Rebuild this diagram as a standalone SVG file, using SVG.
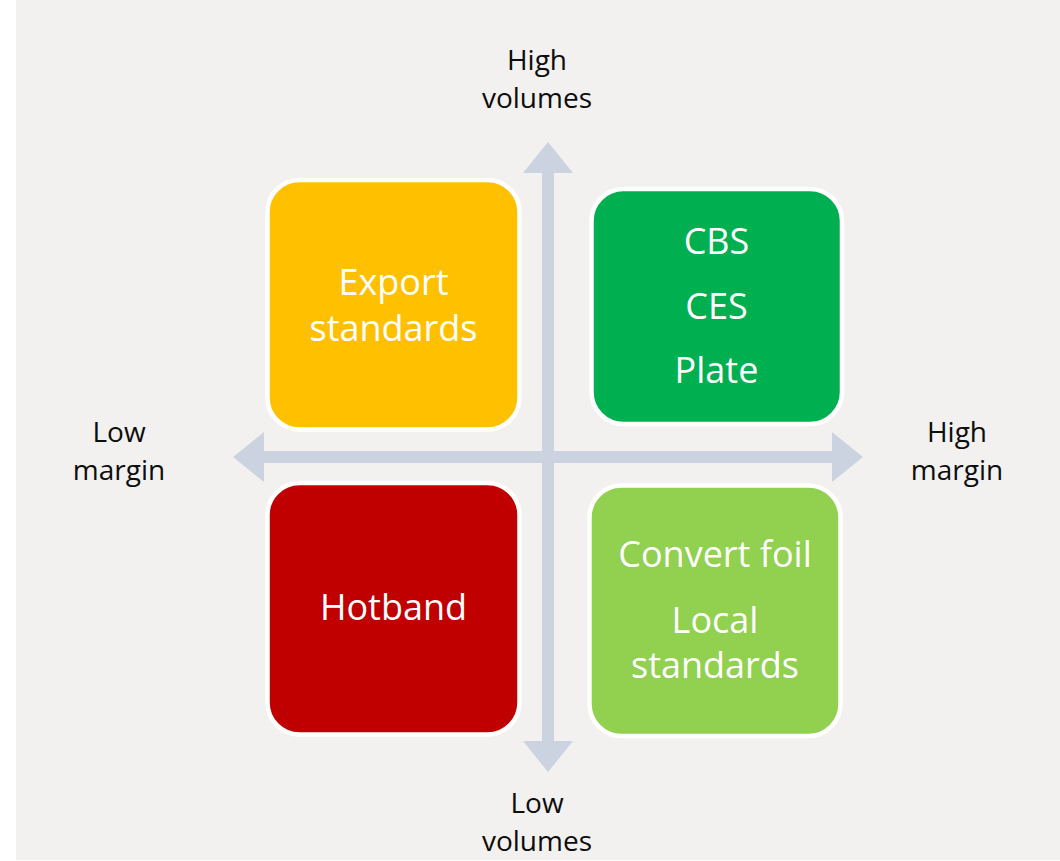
<svg xmlns="http://www.w3.org/2000/svg" width="1060" height="861" viewBox="0 0 1060 861">
  <defs>
    <style>
      .axis { font-family: "Open Sans", "Noto Sans", sans-serif; font-size: 28px; fill: #0d0d0d; text-anchor: middle; }
      .label { font-family: "Open Sans", "Noto Sans", sans-serif; font-size: 36px; fill: #ffffff; text-anchor: middle; }
      .box { stroke: #ffffff; stroke-width: 4.5; }
      .arrow { fill: #cbd3e0; }
    </style>
  </defs>

  <!-- page background -->
  <rect x="0" y="0" width="1060" height="861" fill="#ffffff"/>
  <rect x="16" y="0" width="1044" height="860" fill="#f2f1ef"/>

  <!-- axes -->
  <g id="connectors">
    <path class="arrow" d="M233,457 L264,432 L264,451 L832,451 L832,432 L863,457 L832,482 L832,463 L264,463 L264,482 Z"/>
    <path class="arrow" d="M548,142 L573,173 L554,173 L554,741 L573,741 L548,772 L523,741 L542,741 L542,173 L523,173 Z"/>
  </g>

  <!-- axis labels -->
  <g id="label-high-volumes">
    <text class="axis" x="537" y="70">High</text>
    <text class="axis" x="537" y="108">volumes</text>
  </g>
  <g id="label-low-volumes">
    <text class="axis" x="537" y="813">Low</text>
    <text class="axis" x="537" y="851">volumes</text>
  </g>
  <g id="label-low-margin">
    <text class="axis" x="119" y="442">Low</text>
    <text class="axis" x="119" y="480">margin</text>
  </g>
  <g id="label-high-margin">
    <text class="axis" x="957" y="442">High</text>
    <text class="axis" x="957" y="480">margin</text>
  </g>

  <!-- quadrants -->
  <g id="node-export-standards">
    <rect class="box" x="267.5" y="180" width="252" height="249.5" rx="32" fill="#ffc000"/>
    <text class="label" x="393.5" y="295">Export</text>
    <text class="label" x="393.5" y="341">standards</text>
  </g>
  <g id="node-cbs-ces-plate">
    <rect class="box" x="591.5" y="189" width="250.5" height="235" rx="32" fill="#00b050"/>
    <text class="label" x="716.5" y="254">CBS</text>
    <text class="label" x="716.5" y="319">CES</text>
    <text class="label" x="716.5" y="383">Plate</text>
  </g>
  <g id="node-hotband">
    <rect class="box" x="267.5" y="483" width="252" height="251.5" rx="32" fill="#c00000"/>
    <text class="label" x="393.5" y="620">Hotband</text>
  </g>
  <g id="node-convert-foil">
    <rect class="box" x="589.5" y="485.5" width="251" height="250.5" rx="32" fill="#92d050"/>
    <text class="label" x="715" y="567">Convert foil</text>
    <text class="label" x="715" y="633">Local</text>
    <text class="label" x="715" y="678">standards</text>
  </g>
</svg>
